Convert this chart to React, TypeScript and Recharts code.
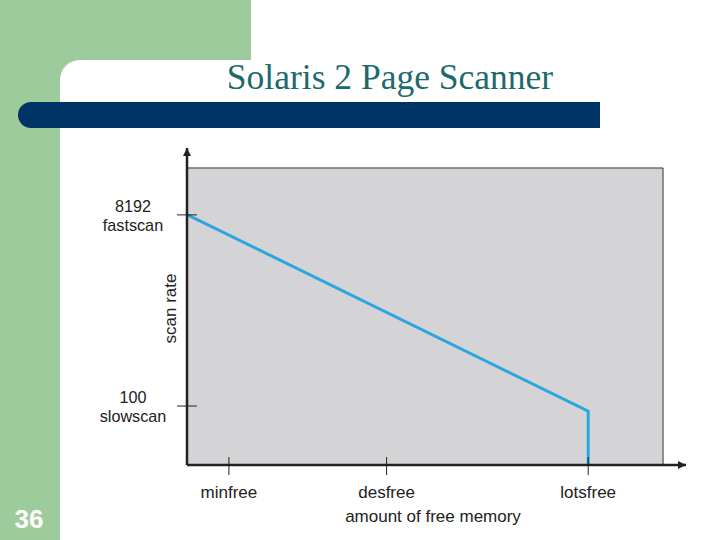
import {
  LineChart, Line, XAxis, YAxis, ReferenceArea, ReferenceDot,
} from 'recharts'

// schematic axes: both run 0..100 across the plot area
const memoryLevels = ['minfree', 'desfree', 'lotsfree']
const memoryPositions = [8.4, 40, 80.4]
const rateTopLines = ['8192', '100']
const rateBottomLines = ['fastscan', 'slowscan']
const ratePositions = [78.9, 18.6]
const curveFree = [0, 80.4, 80.4]
const curveRate = [79, 17, 0]
const panelRight = 95.4
const panelTop = 93.7

const GREEN = '#9dcb9b'
const NAVY = '#003366'
const INK = '#222222'
const SANS = '"Liberation Sans", Arial, sans-serif'

const chartData = curveFree.map((x, i) => ({ free: x, rate: curveRate[i] }))

// eslint-disable-next-line @typescript-eslint/no-explicit-any
const RateTick = ({ x, y, index }: any) => (
  <g>
    <line x1={x - 10} x2={x + 10} y1={y} y2={y} stroke={INK} strokeWidth={1} />
    <text x={x - 54} y={y - 3} textAnchor="middle" fontSize={16.2} fill={INK} fontFamily={SANS}>
      {rateTopLines[index]}
    </text>
    <text x={x - 54} y={y + 15.8} textAnchor="middle" fontSize={16.2} fill={INK} fontFamily={SANS}>
      {rateBottomLines[index]}
    </text>
  </g>
)

// eslint-disable-next-line @typescript-eslint/no-explicit-any
const MemoryTick = ({ x, y, index }: any) => (
  <g>
    <line x1={x} x2={x} y1={y - 8} y2={y + 10} stroke={INK} strokeWidth={1} />
    <text x={x} y={y + 33} textAnchor="middle" fontSize={17} fill={INK} fontFamily={SANS}>
      {memoryLevels[index]}
    </text>
  </g>
)

// eslint-disable-next-line @typescript-eslint/no-explicit-any
const ScanRateLabel = ({ viewBox }: any) => {
  const cx = viewBox.x + viewBox.width - 17
  const cy = viewBox.y + viewBox.height / 2 + 2
  return (
    <text
      x={cx} y={cy} textAnchor="middle" dominantBaseline="central"
      transform={`rotate(-90, ${cx}, ${cy})`}
      fontSize={17} fill={INK} fontFamily={SANS}
    >
      scan rate
    </text>
  )
}

// eslint-disable-next-line @typescript-eslint/no-explicit-any
const FreeMemoryLabel = ({ viewBox }: any) => (
  <text
    x={viewBox.x + viewBox.width / 2 - 3.5} y={viewBox.y + 57}
    textAnchor="middle" fontSize={17} fill={INK} fontFamily={SANS}
  >
    amount of free memory
  </text>
)

// eslint-disable-next-line @typescript-eslint/no-explicit-any
const UpArrow = ({ cx, cy }: any) => (
  <path d={`M${cx},${cy} L${cx - 4},${cy + 8} L${cx + 4},${cy + 8} Z`} fill={INK} />
)

// eslint-disable-next-line @typescript-eslint/no-explicit-any
const RightArrow = ({ cx, cy }: any) => (
  <path d={`M${cx},${cy} L${cx - 8},${cy - 4} L${cx - 8},${cy + 4} Z`} fill={INK} />
)

function SlideBackground() {
  return (
    <svg width={720} height={540} style={{ position: 'absolute', left: 0, top: 0 }}>
      <rect x={0} y={0} width={720} height={540} fill="#ffffff" />
      <rect x={0} y={0} width={251} height={90} fill={GREEN} />
      <rect x={0} y={0} width={60} height={540} fill={GREEN} />
      <rect x={60} y={60} width={700} height={520} rx={20} fill="#ffffff" />
      <rect x={18} y={102} width={582} height={26} rx={13} fill={NAVY} />
      <rect x={580} y={102} width={20} height={26} fill={NAVY} />
      <text
        x={390} y={89} textAnchor="middle" fontSize={35.5} fill="#1d6a6a"
        fontFamily='"Liberation Serif", "Times New Roman", serif'
      >
        Solaris 2 Page Scanner
      </text>
      <text
        x={29} y={528} textAnchor="middle" fontSize={26} fontWeight="bold" fill="#ffffff"
        fontFamily={SANS}
      >
        36
      </text>
    </svg>
  )
}

export default function App() {
  return (
    <div style={{ position: 'absolute', left: 0, top: 0, width: 720, height: 540, overflow: 'hidden' }}>
      <SlideBackground />
      <div style={{ position: 'absolute', left: 0, top: 0 }}>
        <LineChart
          width={720}
          height={540}
          data={chartData}
          margin={{ top: 148, right: 34, left: 127, bottom: 0 }}
        >
          <ReferenceArea
            x1={0} x2={panelRight} y1={0} y2={panelTop}
            fill="#d4d4d6" fillOpacity={1} stroke="#333333" strokeWidth={1}
            ifOverflow="visible"
          />
          <XAxis
            dataKey="free"
            type="number"
            domain={[0, 100]}
            ticks={memoryPositions}
            interval={0}
            height={75}
            tickSize={0}
            tickMargin={0}
            tickLine={false}
            axisLine={{ stroke: INK, strokeWidth: 2.5 }}
            tick={<MemoryTick />}
            label={{ content: <FreeMemoryLabel /> }}
          />
          <YAxis
            dataKey="rate"
            type="number"
            domain={[0, 100]}
            ticks={ratePositions}
            interval={0}
            width={60}
            tickSize={0}
            tickMargin={0}
            tickLine={false}
            axisLine={{ stroke: INK, strokeWidth: 2.5 }}
            tick={<RateTick />}
            label={{ content: <ScanRateLabel /> }}
          />
          <Line
            type="linear"
            dataKey="rate"
            stroke="#2ba6de"
            strokeWidth={3}
            dot={false}
            activeDot={false}
            isAnimationActive={false}
          />
          <ReferenceDot x={0} y={100} ifOverflow="visible" shape={<UpArrow />} />
          <ReferenceDot x={100} y={0} ifOverflow="visible" shape={<RightArrow />} />
        </LineChart>
      </div>
    </div>
  )
}
